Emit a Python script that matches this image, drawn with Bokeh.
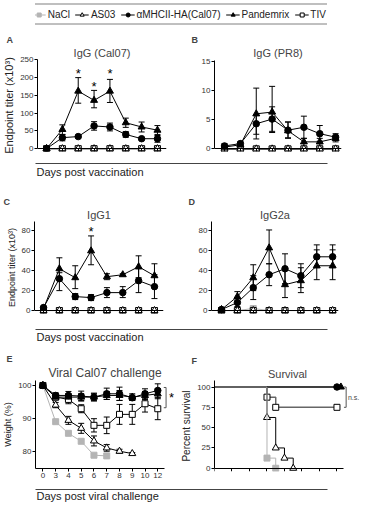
from bokeh.plotting import figure
from bokeh.layouts import column, row
from bokeh.models import (Legend, LegendItem, Whisker, TeeHead, ColumnDataSource,
                          FixedTicker, Title, Label, LinearAxis)
from bokeh.transform import dodge
from bokeh.embed import file_html
from bokeh.resources import INLINE
from bokeh.core.properties import value

FONT = "Liberation Sans"

# ---------------- data ----------------
vacc_days = ["14", "28", "42", "56", "92", "106", "142", "180"]
zero8 = [0, 0, 0, 0, 0, 0, 0, 0]

# A: IgG (Cal07), x10^3
a_pand = [0, 54, 162, 136, 162, 73, 61, 52]
a_pand_hi = [0, 67, 200, 164, 195, 86, 75, 65]
a_pand_lo = [0, 40, 128, 115, 130, 60, 47, 40]
a_mhc = [0, 31, 34, 64, 61, 40, 28, 28]
a_mhc_hi = [0, 40, 36, 76, 72, 48, 31, 37]
a_mhc_lo = [0, 22, 32, 52, 50, 32, 25, 18]
a_star_x = [2, 3, 4]
a_star_y = [212, 174, 212]

# B: IgG (PR8)
b_pand = [0.3, 0.7, 6.0, 6.3, 3.1, 1.2, 1.2, 1.8]
b_pand_hi = [0.6, 1.0, 10.4, 10.7, 4.6, 1.8, 1.8, 2.3]
b_pand_lo = [0.0, 0.4, 1.7, 2.8, 1.8, 0.5, 0.6, 1.2]
b_mhc = [0.5, 0.9, 4.3, 5.1, 3.2, 3.7, 2.6, 2.0]
b_mhc_hi = [0.9, 1.2, 5.7, 7.2, 4.6, 5.6, 4.0, 2.6]
b_mhc_lo = [0.1, 0.6, 2.5, 3.0, 1.9, 1.8, 1.3, 1.5]

# C: IgG1
c_pand = [2, 42, 33, 60, 34, 36, 44, 35]
c_pand_hi = [3, 53, 45, 75, 37, 37, 55, 47]
c_pand_lo = [1, 31, 22, 46, 31, 35, 33, 24]
c_mhc = [3, 32, 14, 13, 18, 18, 30, 24]
c_mhc_hi = [4, 38, 17, 16, 23, 24, 42, 36]
c_mhc_lo = [2, 20, 11, 10, 13, 13, 18, 12]
c_star_x = [3]
c_star_y = [79]

# D: IgG2a
d_pand = [1, 14, 33, 63, 26, 30, 45, 45]
d_pand_hi = [2, 19, 46, 81, 41, 43, 61, 61]
d_pand_lo = [0, 9, 20, 47, 13, 18, 31, 31]
d_mhc = [1, 8, 23, 36, 42, 35, 54, 54]
d_mhc_hi = [2, 12, 35, 47, 57, 47, 66, 66]
d_mhc_lo = [0, 4, 11, 25, 27, 23, 43, 43]
d_nacl = [0, 0, 2, 0, 0, 0, 0, 0]

# E: weight (%) after viral Cal07 challenge
chal_days = ["0", "3", "4", "5", "6", "7", "8", "9", "10", "12"]
e_nacl = [100, 89.1, 85.6, 83.2, 79.0, 78.8]
e_as03 = [100, 94.1, 89.5, 87.1, 83.3, 81.2, 80.2, 79.5]
e_as03_err = [0, 0.8, 1.2, 1.5, 1.5, 1.0, 0.6, 0.3]
e_tiv = [100, 96.5, 95.8, 93.0, 88.0, 88.0, 91.3, 91.3, 94.5, 93.0]
e_tiv_err = [0, 0.8, 1.3, 1.2, 2.0, 2.5, 3.0, 3.0, 2.5, 3.3]
e_mhc = [100, 97.0, 97.0, 96.8, 96.5, 97.5, 97.5, 96.3, 97.5, 98.5]
e_mhc_err = [0, 0.8, 1.2, 1.5, 1.2, 1.7, 2.0, 0.8, 1.5, 2.0]
e_pand = [100, 96.5, 96.5, 96.5, 96.5, 97.0, 97.0, 96.5, 97.0, 97.5]
e_pand_err = [0, 0.8, 1.0, 1.0, 1.0, 1.2, 1.5, 1.0, 1.2, 1.5]
e_bracket_x = 9.65
e_bracket_y = (99.4, 93.3)

# F: survival (%)
f_nacl_t = [0, 6, 7]
f_nacl_s = [100, 12.5, 0]
f_as03_t = [0, 6, 7, 8, 9]
f_as03_s = [100, 62.5, 25, 12.5, 0]
f_tiv_t = [0, 6, 7, 14]
f_tiv_s = [100, 87.5, 75, 75]
f_mhc_t = [0, 14]
f_mhc_s = [100, 100]
f_pand_t = [0, 14]
f_pand_s = [100, 100]
f_bracket_x = 15.05
f_bracket_y = (100, 75)

GREY = "#b4b4b4"
STY = {
    "NaCl": dict(marker="square", fill=GREY, line=GREY, size=6),
    "AS03": dict(marker="triangle", fill="white", line="black", size=7),
    "αMHCII-HA(Cal07)": dict(marker="circle", fill="black", line="black", size=6.5),
    "Pandemrix": dict(marker="triangle", fill="black", line="black", size=7),
    "TIV": dict(marker="square", fill="white", line="black", size=6),
}


def base_fig(fw, fh, xr, yr, top, bottom, right, left=34):
    p = figure(frame_width=fw, frame_height=fh, x_range=xr, y_range=yr,
               toolbar_location=None, output_backend="svg", title=None,
               min_border_top=top, min_border_bottom=bottom,
               min_border_left=left, min_border_right=right)
    p.outline_line_color = None
    p.grid.visible = False
    p.background_fill_color = "white"
    for ax in p.axis:
        ax.major_tick_in = 0
        ax.major_tick_out = 3
        ax.minor_tick_line_color = None
        ax.axis_line_color = "black"
        ax.major_tick_line_color = "black"
        ax.major_label_text_font = FONT
        ax.major_label_text_font_size = "8px"
        ax.major_label_text_color = "#333333"
        ax.major_label_standoff = 1
        ax.axis_label_text_font = FONT
        ax.axis_label_text_font_style = "normal"
        ax.axis_label_standoff = 2
        ax.axis_label_text_color = "#222222"
    return p


def add_titles(p, letter, title, letter_offset, title_size="11px", title_offset=0):
    p.add_layout(Title(text=title, align="center", text_font=FONT,
                       text_font_size=title_size, text_font_style="normal",
                       standoff=1, offset=title_offset), "above")
    p.add_layout(Title(text=letter, align="left", text_font=FONT,
                       text_font_size="9px", text_font_style="bold",
                       standoff=0, offset=letter_offset), "above")


def draw(p, xs, ys, name, hi=None, lo=None, line_color=None, line_width=1):
    st = STY[name]
    src = ColumnDataSource(dict(x=xs, y=ys))
    p.line("x", "y", source=src, line_color=line_color or st["line"], line_width=line_width)
    if hi is not None:
        wsrc = ColumnDataSource(dict(x=xs, hi=hi, lo=lo))
        p.add_layout(Whisker(source=wsrc, base="x", upper="hi", lower="lo",
                             line_color=st["line"], line_width=1,
                             upper_head=TeeHead(size=6, line_color=st["line"], line_width=1),
                             lower_head=TeeHead(size=6, line_color=st["line"], line_width=1)))
    p.scatter("x", "y", source=src, marker=st["marker"], size=st["size"],
              fill_color=st["fill"], line_color=st["line"], line_width=1)


def vacc_panel(fw, right, xr, yr, ybounds, yticks, letter, title, letter_off, title_off,
               pand, pand_hi, pand_lo, mhc, mhc_hi, mhc_lo, nacl, fh, top, bottom,
               ylabel=None, ylabel_size="11px"):
    p = base_fig(fw, fh, xr, yr, top, bottom, right)
    add_titles(p, letter, title, letter_off, title_offset=title_off)
    idx = list(range(len(vacc_days)))
    p.xaxis.ticker = FixedTicker(ticks=idx)
    p.xaxis.major_label_overrides = {i: d for i, d in zip(idx, vacc_days)}
    p.xaxis.fixed_location = 0
    p.yaxis.ticker = FixedTicker(ticks=yticks)
    p.yaxis.bounds = ybounds
    if ylabel:
        p.yaxis.axis_label = ylabel
        p.yaxis.axis_label_text_font_size = ylabel_size
    draw(p, idx, nacl, "NaCl")
    draw(p, idx, zero8, "TIV")
    draw(p, idx, zero8, "AS03")
    draw(p, idx, mhc, "αMHCII-HA(Cal07)", mhc_hi, mhc_lo)
    draw(p, idx, pand, "Pandemrix", pand_hi, pand_lo)
    return p


def add_stars(p, xs, ys):
    p.text(x=xs, y=ys, text=["*"] * len(xs), text_font=value(FONT),
           text_font_size="13px", text_align="center", text_baseline="middle",
           text_color="black")


def strip(height, text, left, right, top, text_size="11px"):
    s = figure(width=357, height=height, x_range=(0, 1), y_range=(0, 1),
               toolbar_location=None, output_backend="svg",
               x_axis_location=None, y_axis_location=None,
               min_border_left=left, min_border_right=357 - right,
               min_border_top=top, min_border_bottom=0)
    s.outline_line_color = None
    s.grid.visible = False
    ax = LinearAxis(ticker=FixedTicker(ticks=[]), axis_line_color="#444444",
                    major_tick_out=0, major_tick_in=0, major_label_standoff=0,
                    major_tick_line_color=None, minor_tick_line_color=None,
                    major_label_text_font_size="1px")
    s.add_layout(ax, "above")
    s.add_layout(Label(x=0, y=0.5, text=text, text_font=FONT, text_font_size=text_size,
                       text_baseline="middle", text_align="left", x_offset=1,
                       text_color="#222222"))
    return s


# ---------------- legend ----------------
leg = figure(width=357, height=28, x_range=(0, 1), y_range=(0, 1),
             toolbar_location=None, output_backend="svg",
             x_axis_location=None, y_axis_location=None, min_border=0)
leg.outline_line_color = None
leg.grid.visible = False
items = []
for name in ["NaCl", "AS03", "αMHCII-HA(Cal07)", "Pandemrix", "TIV"]:
    st = STY[name]
    r1 = leg.line(x=[-5, -4], y=[-5, -5], line_color=st["line"], line_width=1)
    r2 = leg.scatter(x=[-5], y=[-5], marker=st["marker"], size=st["size"],
                     fill_color=st["fill"], line_color=st["line"])
    items.append(LegendItem(label=name, renderers=[r1, r2]))
legend = Legend(items=items, orientation="horizontal", location="center",
                label_text_font=FONT, label_text_font_size="10px",
                glyph_width=14, glyph_height=10, label_standoff=2, spacing=5,
                padding=4, margin=0, border_line_color="#808080",
                border_line_width=1, border_line_alpha=1, label_text_color="#222222")
leg.add_layout(legend, "center")

# ---------------- row 1 ----------------
pA = vacc_panel(129, 14, (-0.57, 7.57), (-8, 251), (0, 250), [0, 50, 100, 150, 200, 250],
                "A", "IgG (Cal07)", -31, -6, a_pand, a_pand_hi, a_pand_lo,
                a_mhc, a_mhc_hi, a_mhc_lo, zero8, 92, 31, 10,
                ylabel="Endpoint titer (x10³)", ylabel_size="11px")
add_stars(pA, a_star_x, a_star_y)
pB = vacc_panel(127, 19, (-0.63, 7.37), (-0.45, 15.3), (0, 15.2), [0, 5, 10, 15],
                "B", "IgG (PR8)", -23, 0, b_pand, b_pand_hi, b_pand_lo,
                b_mhc, b_mhc_hi, b_mhc_lo, zero8, 92, 31, 10)
s1 = strip(18, "Days post vaccination", 32, 328, 2)

# ---------------- row 2 ----------------
pC = vacc_panel(129, 14, (-0.57, 7.57), (-3, 89.5), (0, 89), [0, 20, 40, 60, 80],
                "C", "IgG1", -31, 0, c_pand, c_pand_hi, c_pand_lo,
                c_mhc, c_mhc_hi, c_mhc_lo, zero8, 92, 42, 10,
                ylabel="Endpoint titer (x10³)", ylabel_size="9px")
add_stars(pC, c_star_x, c_star_y)
pD = vacc_panel(127, 19, (-0.63, 7.37), (-3, 89.5), (0, 89), [0, 20, 40, 60, 80],
                "D", "IgG2a", -23, 0, d_pand, d_pand_hi, d_pand_lo,
                d_mhc, d_mhc_hi, d_mhc_lo, d_nacl, 92, 42, 10)
s2 = strip(21, "Days post vaccination", 31, 327, 6)

# ---------------- row 3 ----------------
pE = base_fig(139, 88, (-0.58, 10.31), (75, 101.5), 36, 18, 4)
add_titles(pE, "E", "Viral Cal07 challenge", -29, title_size="12px", title_offset=-11)
eidx = list(range(len(chal_days)))
pE.xaxis.ticker = FixedTicker(ticks=eidx)
pE.xaxis.major_label_overrides = {i: d for i, d in zip(eidx, chal_days)}
pE.xaxis.bounds = (-0.58, 9.53)
pE.yaxis.ticker = FixedTicker(ticks=[80, 90, 100])
pE.yaxis.axis_label = "Weight (%)"
pE.yaxis.axis_label_text_font_size = "9px"


def hl(v, e):
    return [a + b for a, b in zip(v, e)], [a - b for a, b in zip(v, e)]


draw(pE, eidx[:len(e_nacl)], e_nacl, "NaCl")
h, l = hl(e_as03, e_as03_err)
draw(pE, eidx[:len(e_as03)], e_as03, "AS03", h, l)
h, l = hl(e_tiv, e_tiv_err)
draw(pE, eidx, e_tiv, "TIV", h, l)
h, l = hl(e_pand, e_pand_err)
draw(pE, eidx, e_pand, "Pandemrix", h, l)
h, l = hl(e_mhc, e_mhc_err)
draw(pE, eidx, e_mhc, "αMHCII-HA(Cal07)", h, l)
bx, (by0, by1) = e_bracket_x, e_bracket_y
pE.segment(x0=[bx, bx - 0.18, bx - 0.18], y0=[by0, by0, by1],
           x1=[bx, bx, bx], y1=[by1, by0, by1], line_color="#555555", line_width=1)
pE.text(x=[bx + 0.42], y=[(by0 + by1) / 2], text=["*"], text_font=value(FONT),
        text_font_size="13px", text_align="center", text_baseline="middle")

pF = base_fig(146, 91, (0, 16.69), (-4, 108), 36, 15, 0)
add_titles(pF, "F", "Survival", -23, title_offset=-9)
pF.xaxis.ticker = FixedTicker(ticks=[0, 2, 4, 6, 8, 10, 12, 14])
pF.xaxis.fixed_location = 0
pF.xaxis.bounds = (0, 14.74)
pF.yaxis.ticker = FixedTicker(ticks=[0, 25, 50, 75, 100])
pF.yaxis.bounds = (0, 108)
pF.yaxis.axis_label = "Percent survival"
pF.yaxis.axis_label_text_font_size = "10px"


def surv(p, t, s, name, line_color=None, line_width=1, dx=0.0):
    st = STY[name]
    p.step(t, s, mode="after", line_color=line_color or st["line"], line_width=line_width)
    src = ColumnDataSource(dict(x=t[1:], y=s[1:]))
    p.scatter(x=dodge("x", dx), y="y", source=src, marker=st["marker"], size=st["size"],
              fill_color=st["fill"], line_color=st["line"], line_width=1)


surv(pF, f_tiv_t, f_tiv_s, "TIV", line_color="#666666", line_width=1.5)
surv(pF, f_as03_t, f_as03_s, "AS03")
surv(pF, f_mhc_t, f_mhc_s, "αMHCII-HA(Cal07)")
surv(pF, f_pand_t, f_pand_s, "Pandemrix", dx=0.45)
surv(pF, f_nacl_t, f_nacl_s, "NaCl")
fx, (fy0, fy1) = f_bracket_x, f_bracket_y
pF.segment(x0=[fx, fx - 0.25, fx - 0.25], y0=[fy0, fy0, fy1],
           x1=[fx, fx, fx], y1=[fy1, fy0, fy1], line_color="#555555", line_width=1)
pF.text(x=[fx + 0.2], y=[(fy0 + fy1) / 2], text=["n.s."], text_font=value(FONT),
        text_font_size="7px", text_align="left", text_baseline="middle",
        text_color="#444444")

s3 = strip(16, "Days post viral challenge", 35, 330, 3)

layout = column(leg, row(pA, pB), s1, row(pC, pD), s2, row(pE, pF), s3)

open("out.html", "w").write(file_html(layout, INLINE))
